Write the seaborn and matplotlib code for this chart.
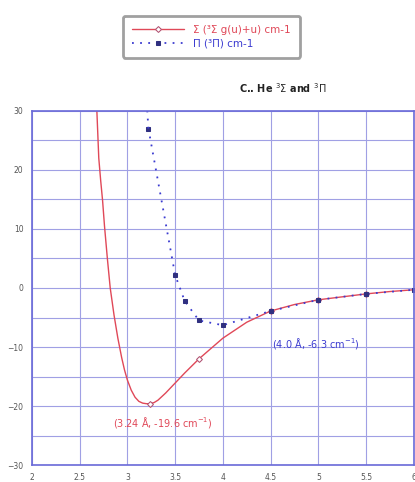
import matplotlib
matplotlib.use("Agg")
import matplotlib.pyplot as plt
import numpy as np
import pandas as pd
import seaborn as sns

# Sigma state potential (cm^-1) vs internuclear distance (Angstrom)
sigma_r = [2.68, 2.70, 2.72, 2.74, 2.76, 2.79, 2.82, 2.86, 2.90, 2.94, 2.97,
           3.00, 3.04, 3.08, 3.12, 3.16, 3.20, 3.24, 3.28, 3.32, 3.40, 3.50,
           3.60, 3.75, 3.90, 4.00, 4.25, 4.50, 4.75, 5.00, 5.25, 5.50, 5.75,
           6.00]
sigma_e = [30.0, 22.0, 18.2, 14.8, 10.5, 5.0, 0.0, -4.6, -8.5, -11.8, -13.9,
           -15.6, -17.3, -18.5, -19.2, -19.5, -19.6, -19.6, -19.4, -19.0, -17.8,
           -16.1, -14.4, -12.0, -9.9, -8.5, -5.8, -3.9, -2.8, -2.0, -1.5, -1.0,
           -0.6, -0.3]

# Pi state potential (cm^-1)
pi_r = [3.22, 3.50, 3.60, 3.75, 4.00, 4.50, 5.00, 5.50, 6.00]
pi_e = [27.0, 2.2, -2.2, -5.5, -6.3, -3.9, -2.0, -1.0, -0.3]

sigma_label = "Σ (³Σ g(u)+u) cm-1"
pi_label = "Π (³Π) cm-1"
title = "C.. He $^3\\Sigma$ and $^3\\Pi$"

x_ticks = [2, 2.5, 3, 3.5, 4, 4.5, 5, 5.5, 6]
x_ticklabels = ["2", "2.5", "3", "3.5", "4", "4.5", "5", "5.5", "6"]
y_ticks = [-30, -20, -10, 0, 10, 20, 30]

sns.set_style("white")
plt.rcParams["font.family"] = ["DejaVu Sans"]

fig = plt.figure(figsize=(4.15, 4.82), dpi=100)
ax = fig.add_axes([0.077, 0.035, 0.92, 0.735])

df_s = pd.DataFrame({"r": sigma_r, "e": sigma_e})
df_p = pd.DataFrame({"r": pi_r, "e": pi_e})

red = "#e04858"
blue = "#3b3bd0"
marked = [sigma_r.index(v) for v in (3.24, 3.75, 4.5, 5.0, 5.5)]
sns.lineplot(data=df_s, x="r", y="e", ax=ax, color=red, lw=1.0,
             marker="D", markersize=3, markeredgecolor="#b05070",
             markerfacecolor="white", markevery=marked,
             label=sigma_label, sort=False)
sns.lineplot(data=df_p, x="r", y="e", ax=ax, color=blue, lw=1.3,
             linestyle=(0, (1, 3.5)), marker="s", markersize=3.5,
             markerfacecolor="#303080", markeredgecolor="#303080",
             label=pi_label, sort=False)
# dotted branch leaving the top of the frame
ax.plot([pi_r[0], pi_r[0] - 0.02], [pi_e[0], 32], color=blue, lw=1.3,
        linestyle=(0, (1, 3.5)))

ax.set_xlim(2, 6)
ax.set_ylim(-30, 30)
ax.set_xticks(x_ticks)
ax.set_xticklabels(x_ticklabels)
ax.set_yticks(y_ticks)
ax.set_yticks(np.arange(-25, 30, 10), minor=True)
ax.grid(True, which="both", color="#a0a0e4", lw=0.8)
ax.set_axisbelow(True)
for s in ax.spines.values():
    s.set_color("#6a6ad8")
    s.set_linewidth(1.2)
ax.tick_params(axis="both", which="major", labelsize=5.5, colors="#6a6ad8",
               labelcolor="#555555", length=3, direction="in", pad=6)
ax.tick_params(axis="both", which="minor", length=3, direction="in",
               colors="#6a6ad8")
ax.set_xlabel("")
ax.set_ylabel("")

ax.text(3.37, -22.8, "(3.24 Å, -19.6 cm$^{-1}$)", color=red, fontsize=7,
        ha="center", va="center")
ax.text(4.97, -9.4, "(4.0 Å, -6.3 cm$^{-1}$)", color=blue, fontsize=7,
        ha="center", va="center")

fig.text(0.682, 0.817, title, fontsize=7, fontweight="bold", ha="center",
         va="center", color="#222222")

handles, labels = ax.get_legend_handles_labels()
ax.get_legend().remove()
leg = fig.legend(handles, labels, loc="center", bbox_to_anchor=(0.509, 0.924),
                 fontsize=7.5, frameon=True, fancybox=True, handlelength=5,
                 borderpad=0.9, labelspacing=0.3, edgecolor="#888888")
leg.get_frame().set_linewidth(2.0)
for txt, c in zip(leg.get_texts(), [red, blue]):
    txt.set_color(c)

fig.savefig("out.png", dpi=100)
